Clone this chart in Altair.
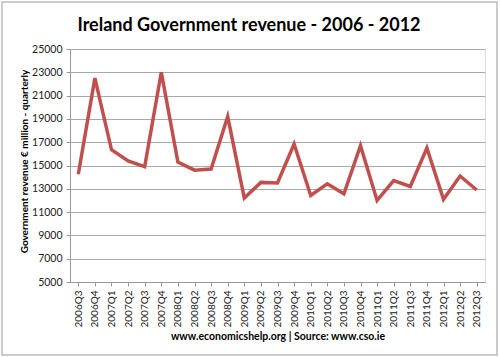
import altair as alt
import pandas as pd

quarters = ["2006Q3", "2006Q4", "2007Q1", "2007Q2", "2007Q3", "2007Q4",
            "2008Q1", "2008Q2", "2008Q3", "2008Q4", "2009Q1", "2009Q2",
            "2009Q3", "2009Q4", "2010Q1", "2010Q2", "2010Q3", "2010Q4",
            "2011Q1", "2011Q2", "2011Q3", "2011Q4", "2012Q1", "2012Q2",
            "2012Q3"]
revenue = [14250, 22500, 16350, 15400, 14900, 23000,
           15300, 14600, 14700, 19200, 12200, 13550,
           13500, 16850, 12430, 13430, 12570, 16700,
           12000, 13700, 13200, 16500, 12100, 14100,
           12900]
y_ticks = [5000, 7000, 9000, 11000, 13000, 15000, 17000, 19000, 21000, 23000, 25000]
title_text = ["Ireland Government revenue - 2006 - 2012"]

df = pd.DataFrame({"quarter": quarters, "revenue": revenue})

FONT = "Lato"

line = alt.Chart(df).mark_line(color="#C0504D", strokeWidth=3.5, strokeJoin="miter").encode(
    x=alt.X("quarter:N", sort=quarters,
            scale=alt.Scale(paddingInner=0, paddingOuter=0.5),
            axis=alt.Axis(title="www.economicshelp.org | Source: www.cso.ie",
                          titleFont=FONT, titleFontSize=10.5, titleFontWeight="bold",
                          titleColor="#000000", titleY=54, titleBaseline="middle",
                          labelAngle=-90, labelAlign="right", labelBaseline="middle",
                          labelFont=FONT, labelFontSize=10, labelColor="#222222",
                          labelPadding=4, tickSize=4, tickColor="#999999",
                          domainColor="#999999", grid=False, bandPosition=0)),
    y=alt.Y("revenue:Q",
            scale=alt.Scale(domain=[5000, 25000], nice=False, zero=False),
            axis=alt.Axis(values=y_ticks, format="d",
                          title="Government revenue € million - quarterly",
                          titleFont=FONT, titleFontSize=10, titleFontWeight="bold",
                          titleColor="#000000", titleAngle=-90, titleX=-46, titleY=112,
                          titleAlign="center", titleBaseline="middle",
                          labelFont=FONT, labelFontSize=10.5, labelColor="#222222",
                          labelPadding=4, tickSize=4, tickColor="#999999",
                          domainColor="#999999",
                          grid=True, gridColor="#AAAAAA", gridWidth=1.2)),
)

border = alt.Chart(pd.DataFrame({"a": [0]})).mark_rect(
    fill=None, stroke="#BBBBBB", strokeWidth=1.5
).encode(x=alt.value(-68), x2=alt.value(427), y=alt.value(-47), y2=alt.value(306))

title = alt.Chart(pd.DataFrame({"t": title_text})).mark_text(
    font=FONT, fontSize=18, fontWeight="bold", color="#000000",
    align="center", baseline="middle"
).encode(text="t:N", x=alt.value(179), y=alt.value(-23))

chart = alt.layer(border, line, title).properties(
    width=415, height=233,
    padding={"left": 70, "top": 49, "right": 15, "bottom": 75},
    autosize=alt.AutoSizeParams(type="none"),
).configure_view(stroke=None).configure(background="white")

chart.save("out.html", embed_options={"renderer": "svg", "actions": False})
